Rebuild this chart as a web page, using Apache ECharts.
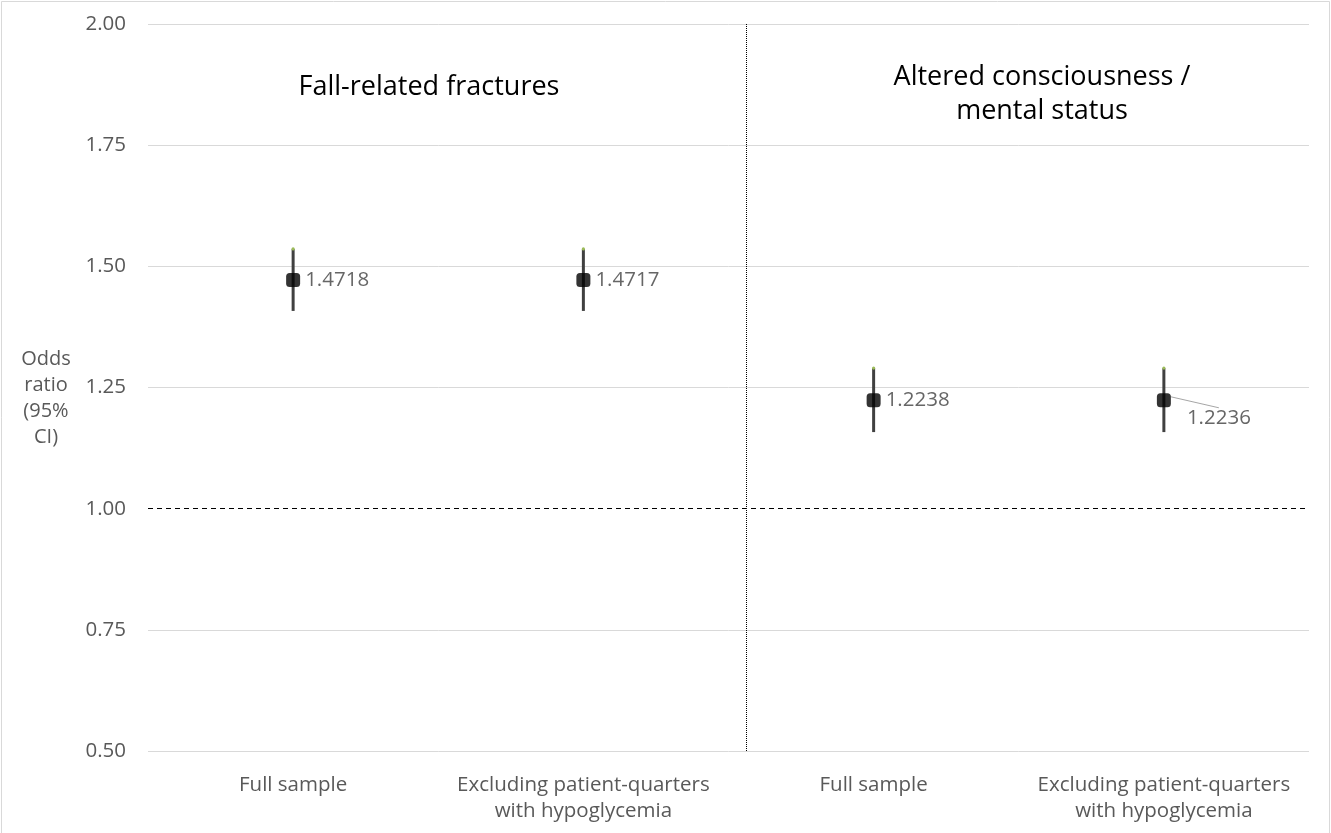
<!DOCTYPE html>
<html>
<head>
<meta charset="utf-8">
<script src="https://cdn.jsdelivr.net/npm/echarts@6/dist/echarts.min.js"></script>
<style>
html,body{margin:0;padding:0;background:#fff;}
#chart{width:1331px;height:833px;}
</style>
</head>
<body>
<div id="chart"></div>
<script>
const categories = ['Full sample', 'Excluding patient-quarters\nwith hypoglycemia', 'Full sample', 'Excluding patient-quarters\nwith hypoglycemia'];
const oddsRatio = [1.4718, 1.4717, 1.2238, 1.2236];
const ciLower = [1.408, 1.408, 1.158, 1.158];
const ciUpper = [1.536, 1.536, 1.290, 1.290];
const groupTitles = ['Fall-related fractures', 'Altered consciousness /\nmental status'];
const yTicks = [0.50, 0.75, 1.00, 1.25, 1.50, 1.75, 2.00];
const referenceOR = 1.00;
const separatorX = 1.56;

const chart = echarts.init(document.getElementById('chart'));
const FONT = '"Open Sans", "Noto Sans", sans-serif';

const errData = oddsRatio.map((v, i) => [i, ciLower[i], ciUpper[i]]);
const ptData = oddsRatio.map((v, i) => {
  const d = { value: [i, v] };
  if (i === 3) d.labelLine = { show: true, lineStyle: { color: '#a6a6a6', width: 1 } };
  return d;
});

const option = {
  animation: false,
  backgroundColor: '#fff',
  grid: { left: 148, right: 22, top: 24, bottom: 82, containLabel: false },
  xAxis: [
    {
      type: 'category', data: categories, boundaryGap: true,
      axisLine: { show: false }, axisTick: { show: false }, splitLine: { show: false },
      axisLabel: { color: '#595959', fontSize: 20.5, fontFamily: FONT, lineHeight: 26, margin: 21, interval: 0 }
    },
    { type: 'value', min: -0.5, max: 3.5, show: false }
  ],
  yAxis: {
    type: 'value', min: yTicks[0], max: yTicks[yTicks.length - 1], interval: 0.25,
    axisLine: { show: false }, axisTick: { show: false },
    splitLine: { lineStyle: { color: yTicks.map(t => t === referenceOR ? 'rgba(0,0,0,0)' : '#d9d9d9'), width: 1 } },
    axisLabel: { color: '#595959', fontSize: 20.5, fontFamily: FONT, margin: 22, formatter: v => v.toFixed(2) }
  },
  graphic: [
    { type: 'rect', shape: { x: 1.5, y: 1.5, width: 1328, height: 840 }, style: { fill: 'none', stroke: '#d9d9d9', lineWidth: 1 }, silent: true },
    { type: 'text', x: 429, y: 87, style: { text: groupTitles[0], fill: '#000', font: '27px ' + FONT, textAlign: 'center', textVerticalAlign: 'middle' } },
    { type: 'text', x: 1042, y: 94, style: { text: groupTitles[1], fill: '#000', font: '27px ' + FONT, textAlign: 'center', textVerticalAlign: 'middle', lineHeight: 34 } },
    { type: 'text', x: 46, y: 398, style: { text: 'Odds\nratio\n(95%\nCI)', fill: '#595959', font: '20px ' + FONT, textAlign: 'center', textVerticalAlign: 'middle', lineHeight: 26 } }
  ],
  series: [
    {
      type: 'line', xAxisIndex: 1, data: [], silent: true,
      markLine: {
        symbol: 'none', silent: true, label: { show: false },
        data: [
          { yAxis: referenceOR, lineStyle: { type: [5, 4], color: '#000', width: 1 } },
          { xAxis: separatorX, lineStyle: { type: [1, 1], color: '#000', width: 1 } }
        ]
      }
    },
    {
      type: 'custom', xAxisIndex: 1, data: errData, z: 3,
      renderItem: function (params, api) {
        const x = api.value(0);
        const lo = api.coord([x, api.value(1)]);
        const hi = api.coord([x, api.value(2)]);
        return {
          type: 'group', children: [
            { type: 'line', shape: { x1: lo[0], y1: lo[1], x2: hi[0], y2: hi[1] }, style: { stroke: '#404040', lineWidth: 3 } },
            { type: 'circle', shape: { cx: hi[0], cy: hi[1], r: 1.6 }, style: { fill: '#9bbb59' } }
          ]
        };
      }
    },
    {
      type: 'scatter', xAxisIndex: 1, data: ptData, z: 5,
      symbol: 'roundRect', symbolSize: 14,
      itemStyle: { color: '#000' },
      label: {
        show: true, position: 'right', distance: 5, color: '#404040', fontSize: 20.5, fontFamily: FONT,
        formatter: p => oddsRatio[p.dataIndex].toFixed(4)
      },
      labelLayout: function (params) {
        if (params.dataIndex === 3) return { dx: 11, dy: 18 };
        return {};
      }
    }
  ]
};
chart.setOption(option);
</script>
</body>
</html>
